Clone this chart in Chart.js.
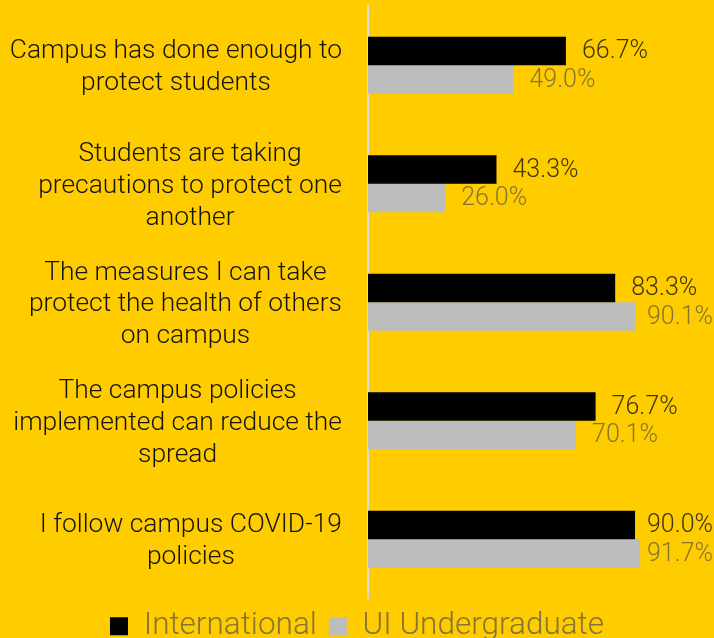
<!DOCTYPE html>
<html>
<head>
<meta charset="utf-8">
<script src="https://cdn.jsdelivr.net/npm/chart.js@4.4.1/dist/chart.umd.min.js"></script>
<style>
  html, body { margin: 0; padding: 0; background: #FFCC00; overflow: hidden; }
  #wrap { position: absolute; left: 0; top: 0; width: 714px; height: 652px; }
</style>
</head>
<body>
<div id="wrap"><canvas id="c"></canvas></div>
<script>
const categories = [
  ["Campus has done enough to", "protect students"],
  ["Students are taking", "precautions to protect one", "another"],
  ["The measures I can take", "protect the health of others", "on campus"],
  ["The campus policies", "implemented can reduce the", "spread"],
  ["I follow campus COVID-19", "policies"]
];
const seriesNames = ["International", "UI Undergraduate"];
const international = [66.7, 43.3, 83.3, 76.7, 90.0];
const undergraduate = [49.0, 26.0, 90.1, 70.1, 91.7];

const BG = '#FFCC00';

const categoryLabelPlugin = {
  id: 'categoryLabels',
  afterDraw(chart) {
    const ctx = chart.ctx;
    const y = chart.scales.y;
    const rightEdge = chart.chartArea.left - 26;
    const lineH = 31.8;
    ctx.save();
    ctx.font = '300 26.4px Roboto';
    ctx.fillStyle = '#141414';
    ctx.textAlign = 'center';
    ctx.textBaseline = 'middle';
    categories.forEach((lines, i) => {
      const cy = y.getPixelForValue(i) + 2.5;
      let widest = 0;
      lines.forEach(l => { widest = Math.max(widest, ctx.measureText(l).width); });
      const cx = rightEdge - widest / 2;
      const startY = cy - (lines.length - 1) * lineH / 2;
      lines.forEach((l, k) => ctx.fillText(l, cx, startY + k * lineH));
    });
    ctx.restore();
  }
};

const valueLabelPlugin = {
  id: 'valueLabels',
  afterDatasetsDraw(chart) {
    const ctx = chart.ctx;
    const colors = ['#40350F', '#857535'];
    ctx.save();
    ctx.font = '300 25px Roboto';
    ctx.textAlign = 'left';
    ctx.textBaseline = 'middle';
    chart.data.datasets.forEach((ds, di) => {
      const meta = chart.getDatasetMeta(di);
      ctx.fillStyle = colors[di];
      meta.data.forEach((bar, i) => {
        const txt = ds.data[i].toFixed(1) + '%';
        const w = ctx.measureText(txt).width;
        const x = Math.min(bar.x + 16, chart.width - 1 - w);
        ctx.fillText(txt, x, bar.y + 1);
      });
    });
    ctx.restore();
  }
};

new Chart(document.getElementById('c'), {
  type: 'bar',
  data: {
    labels: categories,
    datasets: [
      { label: seriesNames[0], data: international, backgroundColor: '#000000', borderWidth: 0,
        categoryPercentage: 0.48, barPercentage: 1.0 },
      { label: seriesNames[1], data: undergraduate, backgroundColor: '#BDBDBD', borderWidth: 0,
        categoryPercentage: 0.48, barPercentage: 1.0 }
    ]
  },
  options: {
    indexAxis: 'y',
    responsive: true,
    maintainAspectRatio: false,
    animation: false,
    layout: { padding: { top: 6, right: 0, left: 0, bottom: 0 } },
    scales: {
      x: { display: false, min: 0, max: 116.6 },
      y: {
        grid: { display: false },
        border: { display: true, color: '#DCDCDC', width: 2 },
        ticks: { display: false },
        afterFit(scale) { scale.width = 368; }
      }
    },
    plugins: {
      legend: {
        position: 'bottom',
        labels: {
          font: { family: 'Roboto', size: 31.5, weight: '300' },
          color: '#857535',
          boxWidth: 18,
          boxHeight: 18,
          padding: 12
        }
      },
      tooltip: { enabled: false }
    }
  },
  plugins: [
    { id: 'bg', beforeDraw(chart) { const c = chart.ctx; c.save(); c.fillStyle = BG; c.fillRect(0, 0, chart.width, chart.height); c.restore(); } },
    categoryLabelPlugin,
    valueLabelPlugin
  ]
});
</script>
</body>
</html>
